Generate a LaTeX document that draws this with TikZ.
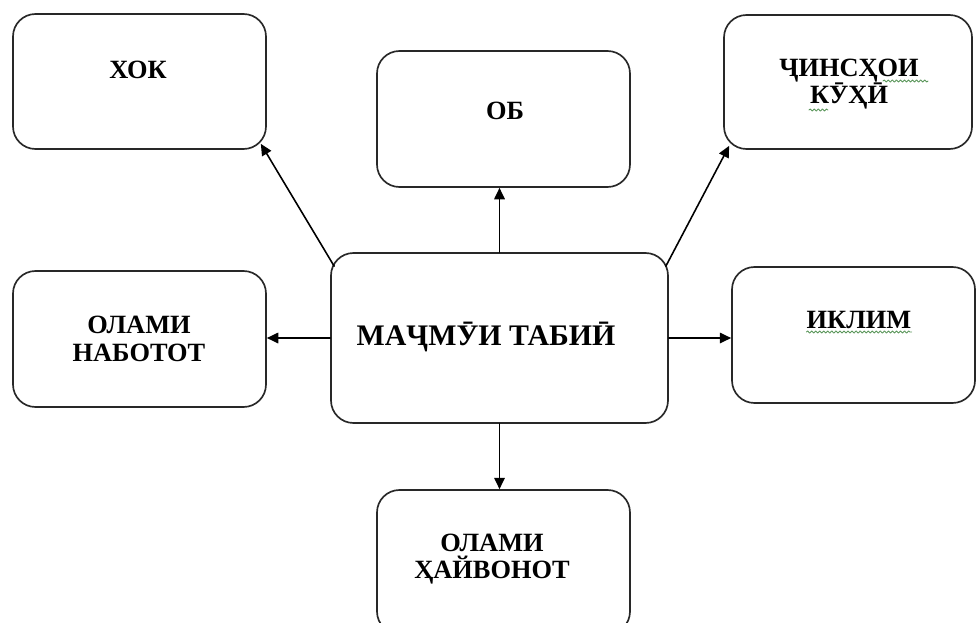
\documentclass[tikz,border=0pt]{standalone}
\usepackage{fontspec}
\setmainfont{Liberation Serif}
\usetikzlibrary{arrows.meta,calc,decorations.pathmorphing}
\definecolor{Ln}{RGB}{40, 40, 40}
\definecolor{Sq}{RGB}{90, 150, 90}

\begin{document}
\begin{tikzpicture}[>={Triangle[length=6.5pt,width=6pt]}, line cap=round, line join=round,
  x=0.02cm, y=-0.02cm,
  box/.style={draw=Ln, line width=0.95pt, rounded corners=0.45cm, inner sep=0pt},
  txt/.style={font=\bfseries\fontsize{15}{15.8}\selectfont, align=center, inner sep=0pt},
  link/.style={->, draw=black, line width=0.9pt},
  squig/.style={draw=Sq, line width=0.5pt, decorate,
    decoration={snake, segment length=2.3pt, amplitude=0.6pt}}]
  \path[use as bounding box] (0,0) rectangle (976,622);
  \clip (0,0) rectangle (976,622);

  % Boxes: name / centre x / centre y / width / height
  \foreach \nm/\cx/\cy/\w/\h in {xok/139.5/81.5/253/135, ob/503.5/119/253/136,
      rock/848/82/248/134, plant/139.5/339/253/136, mid/499.5/338/337/170,
      clim/853.5/335/243/136, anim/503.5/562/253/144}{
    \node[box, minimum width=\w*0.02cm, minimum height=\h*0.02cm] (\nm) at (\cx,\cy) {};
  }

  % Labels: name / x / y / anchor / text
  \foreach \nm/\tx/\ty/\an/\lbl in {xok/138/78/base/ХОК, ob/505/119/base/ОБ,
      rock/849/84/center/{ҶИНСҲОИ\\КӮҲӢ}, plant/139/339/center/{ОЛАМИ\\НАБОТОТ},
      clim/859/328/base/ИКЛИМ, anim/492/559/center/{ОЛАМИ\\ҲАЙВОНОТ}}{
    \node[txt, anchor=\an] (\nm-t) at (\tx,\ty) {\lbl};
  }
  \node[txt, anchor=base, font=\bfseries\fontsize{17}{19}\selectfont] (mid-t) at (486,345) {МАҶМӮИ ТАБИӢ};

  % Connectors
  \draw[link] (mid.north) -- (mid.north |- ob.south);
  \draw[link] (mid.south) -- (mid.south |- anim.north);
  \draw[link] (mid.west) -- (mid.west -| plant.east);
  \draw[link] (mid.east) -- (mid.east -| clim.west);
  \draw[link] ($(mid.north west)+(4,14)$) -- ($(xok.south east)+(-6,-6)$);
  \draw[link] ($(mid.north east)+(-3,14)$) -- ($(rock.south west)+(6,-4)$);

  % Spelling marks
  \draw[squig] (883,81) -- (928,81);
  \draw[squig] (809,110) -- (828,110);
  \draw[squig] ($(clim-t.base west)+(0,4)$) -- ($(clim-t.base east)+(0,4)$);
\end{tikzpicture}
\end{document}
